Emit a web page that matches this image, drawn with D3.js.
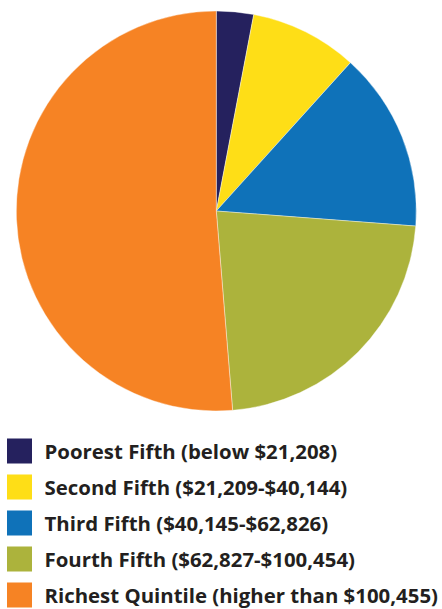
<!DOCTYPE html>
<html>
<head>
<meta charset="utf-8">
<script src="https://cdn.jsdelivr.net/npm/d3@7"></script>
<style>
  html, body { margin: 0; padding: 0; background: #fff; }
  svg { display: block; }
</style>
</head>
<body>
<svg id="chart" width="442" height="609"></svg>
<script>
// Share of aggregate household income by quintile (percent)
const categories = [
  "Poorest Fifth (below $21,208)",
  "Second Fifth ($21,209-$40,144)",
  "Third Fifth ($40,145-$62,826)",
  "Fourth Fifth ($62,827-$100,454)",
  "Richest Quintile (higher than $100,455)"
];
const shares = [3.0, 8.7, 14.5, 22.5, 51.3];
const colors = ["#25215e", "#fede17", "#0f72b9", "#acb33c", "#f68324"];

const svg = d3.select("#chart");

const cx = 216.3, cy = 211, radius = 200;

const color = d3.scaleOrdinal().domain(categories).range(colors);

const pie = d3.pie().sort(null).value(d => d.value);
const arc = d3.arc().innerRadius(0).outerRadius(radius);

const data = categories.map((c, i) => ({ name: c, value: shares[i] }));

svg.append("g")
  .attr("transform", `translate(${cx},${cy})`)
  .selectAll("path")
  .data(pie(data))
  .join("path")
  .attr("d", arc)
  .attr("fill", d => color(d.data.name))
  .attr("stroke", "#ffffff")
  .attr("stroke-width", 0.4);

// Legend: swatch plus label per quintile
const legend = svg.append("g")
  .selectAll("g")
  .data(categories)
  .join("g")
  .attr("transform", (d, i) => `translate(7,${438.5 + i * 36})`);

legend.append("rect")
  .attr("width", 25)
  .attr("height", 25)
  .attr("fill", d => color(d));

legend.append("text")
  .attr("x", 37.5)
  .attr("y", 20)
  .attr("font-family", "'Open Sans', sans-serif")
  .attr("font-weight", 700)
  .attr("font-size", 20.4)
  .attr("fill", "#231f20")
  .text(d => d);
</script>
</body>
</html>
